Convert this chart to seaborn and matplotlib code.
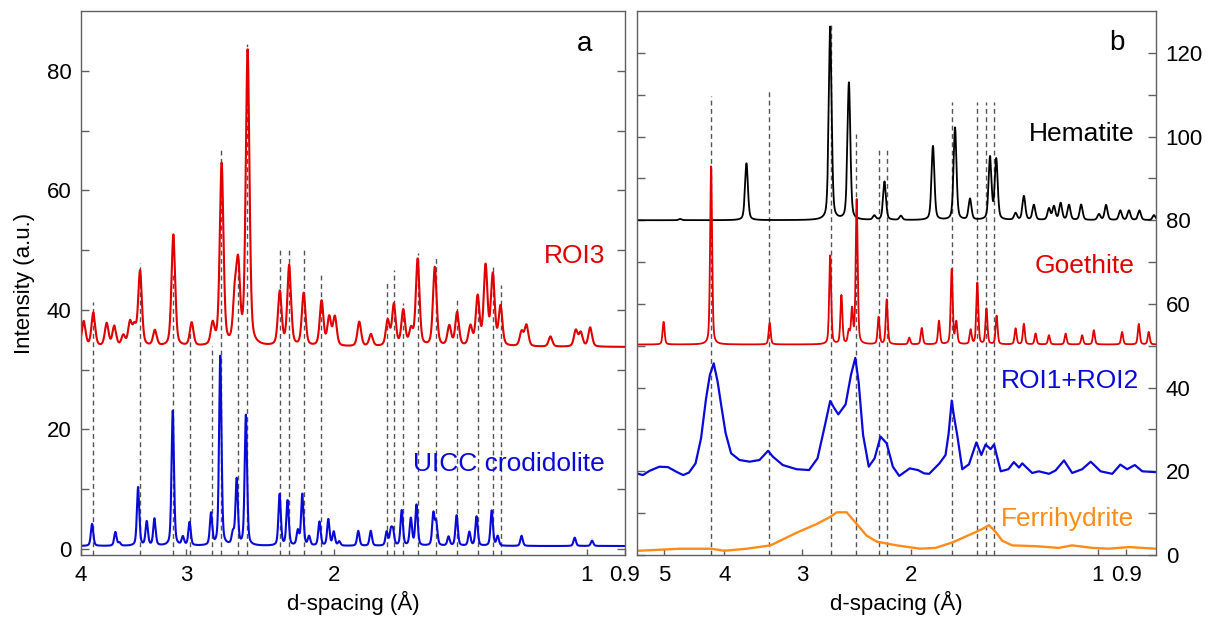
import numpy as np
import pandas as pd
import matplotlib
matplotlib.use("Agg")
import matplotlib.pyplot as plt
from matplotlib.ticker import NullLocator
import seaborn as sns

# ---------------- panel a : ROI3 vs UICC crocidolite ----------------
# peak positions (d, Angstrom) and peak-top intensities
roi3_base = 33.8
roi3_d = [3.97, 3.867, 3.728, 3.651, 3.562, 3.497, 3.455, 3.402, 3.266, 3.105,
          2.953, 2.788, 2.720, 2.623, 2.599, 2.533, 2.319, 2.260, 2.172, 2.068,
          2.025, 1.994, 1.865, 1.806, 1.725, 1.696, 1.653, 1.618, 1.589, 1.516,
          1.457, 1.426, 1.375, 1.348, 1.319, 1.293, 1.266, 1.195, 1.179, 1.104,
          1.030, 1.016, 0.990]
roi3_i = [38.0, 39.4, 37.6, 37.1, 35.5, 37.6, 36.7, 46.3, 36.4, 52.5,
          37.7, 37.3, 64.2, 41.4, 46.0, 83.1, 42.8, 47.2, 42.6, 41.3,
          38.5, 38.6, 37.9, 35.8, 38.0, 40.7, 39.7, 36.4, 48.3, 47.0,
          37.1, 39.4, 37.0, 41.9, 47.0, 45.5, 40.3, 36.2, 37.3, 35.5,
          36.5, 36.1, 37.0]

croc_base = 0.5
croc_d = [3.88, 3.64, 3.60, 3.42, 3.34, 3.27, 3.11, 3.025, 2.97, 2.80,
          2.73, 2.637, 2.61, 2.545, 2.32, 2.27, 2.207, 2.18, 2.14, 2.08,
          2.03, 2.00, 1.97, 1.870, 1.807, 1.730, 1.71, 1.70, 1.660, 1.619,
          1.594, 1.522, 1.51, 1.46, 1.428, 1.379, 1.352, 1.297, 1.276, 1.195,
          1.033, 0.985]
croc_i = [4.2, 2.8, 1.0, 10.3, 4.5, 5.0, 23.1, 1.9, 4.4, 5.8,
          32.2, 2.4, 11.5, 22.3, 9.1, 8.0, 2.9, 9.1, 2.0, 4.5,
          4.9, 2.8, 1.2, 3.0, 3.0, 2.8, 2.9, 2.8, 6.4, 5.0,
          7.3, 5.8, 4.2, 2.0, 5.6, 2.8, 5.4, 6.4, 2.1, 2.2,
          1.9, 1.4]

# reference lines (d, top of dashed line)
a_ref_d = [3.867, 3.403, 3.112, 2.966, 2.795, 2.727, 2.599, 2.536, 2.319, 2.260,
           2.172, 2.072, 1.727, 1.696, 1.653, 1.587, 1.513, 1.426, 1.348, 1.293,
           1.265]
a_ref_top = [41.4, 47.9, 46.0, 36.4, 34.0, 66.8, 49.2, 84.5, 50.0, 50.0,
             50.0, 46.0, 44.9, 46.6, 41.1, 49.5, 48.6, 41.9, 41.9, 47.2,
             44.1]

# ---------------- panel b : reference minerals and ROI1+ROI2 ----------------
hem_base = 80.0
hem_d = [4.71, 3.684, 2.700, 2.519, 2.292, 2.207, 2.077, 1.844, 1.699, 1.607,
         1.492, 1.458, 1.357, 1.316, 1.268, 1.199, 1.177, 1.148, 1.113, 1.064,
         0.996, 0.970, 0.920, 0.891, 0.857, 0.812]
hem_i = [80.3, 93.6, 126.2, 112.8, 81.0, 89.2, 81.0, 97.7, 102.1, 85.0,
         94.9, 94.4, 81.6, 85.7, 83.6, 82.7, 83.2, 84.0, 83.6, 83.7,
         81.4, 83.6, 82.3, 82.3, 82.3, 81.2]

goe_base = 50.3
goe_d = [5.01, 4.20, 3.38, 2.70, 2.59, 2.52, 2.49, 2.447, 2.256, 2.189,
         2.013, 1.922, 1.803, 1.720, 1.691, 1.603, 1.564, 1.512, 1.456, 1.357,
         1.316, 1.260, 1.199, 1.127, 1.060, 1.015, 0.914, 0.859, 0.828]
goe_i = [55.7, 92.9, 55.5, 71.5, 61.9, 53.2, 58.3, 84.8, 56.8, 61.0,
         51.9, 54.2, 55.9, 68.2, 55.5, 53.7, 65.0, 58.8, 57.1, 54.1,
         55.2, 52.9, 52.5, 52.9, 52.5, 53.7, 53.3, 55.2, 53.3]

# broad curves traced point by point
roi12_d = [5.54, 5.41, 5.28, 5.09, 4.93, 4.78, 4.66, 4.56, 4.45, 4.36,
           4.28, 4.22, 4.16, 4.10, 4.05, 3.98, 3.90, 3.78, 3.64, 3.51,
           3.40, 3.34, 3.22, 3.06, 2.92, 2.83, 2.76, 2.70, 2.66, 2.62,
           2.55, 2.50, 2.46, 2.43, 2.39, 2.34, 2.29, 2.24, 2.19, 2.14,
           2.09, 2.01, 1.95, 1.905, 1.87, 1.80, 1.76, 1.74, 1.72, 1.705,
           1.685, 1.654, 1.613, 1.570, 1.541, 1.517, 1.489, 1.470, 1.434, 1.394,
           1.366, 1.340, 1.324, 1.276, 1.245, 1.199, 1.170, 1.134, 1.100, 1.060,
           1.027, 0.990, 0.948, 0.920, 0.897, 0.872, 0.848, 0.807]
roi12_i = [19.5, 19.1, 20.1, 21.1, 21.0, 19.9, 19.1, 19.7, 21.9, 27.9,
           37.4, 43.0, 45.8, 41.4, 36.2, 29.1, 24.3, 22.7, 22.3, 22.7,
           24.9, 23.5, 21.5, 20.5, 20.3, 23.1, 30.3, 36.8, 35.1, 33.6,
           36.0, 43.0, 47.1, 41.4, 28.7, 21.1, 23.1, 28.3, 26.7, 21.1,
           18.9, 20.7, 20.3, 19.5, 19.4, 21.9, 23.9, 29.0, 36.9, 33.0,
           28.6, 20.5, 21.7, 26.9, 23.9, 26.4, 25.3, 26.4, 20.0, 20.5,
           22.2, 20.9, 21.9, 19.6, 20.0, 19.4, 20.2, 22.6, 19.6, 20.5,
           22.3, 20.0, 19.4, 21.6, 20.5, 21.5, 20.0, 19.8]

ferri_d = [5.52, 4.71, 4.20, 4.00, 3.68, 3.37, 3.06, 2.84, 2.70, 2.635,
           2.54, 2.447, 2.358, 2.272, 2.110, 1.934, 1.826, 1.716, 1.594, 1.536,
           1.498, 1.461, 1.426, 1.374, 1.260, 1.156, 1.100, 1.021, 0.960, 0.891,
           0.807]
ferri_i = [1.0, 1.5, 1.5, 1.0, 1.5, 2.3, 5.3, 7.4, 9.1, 10.2,
           10.2, 7.4, 4.6, 3.2, 2.3, 1.5, 1.7, 3.0, 5.1, 6.2,
           7.1, 5.5, 3.4, 2.3, 2.1, 1.7, 2.3, 1.7, 1.5, 1.9,
           1.5]

b_ref_d = [4.20, 3.39, 2.692, 2.456, 2.25, 2.185, 1.720, 1.568, 1.513, 1.470]
b_ref_top = [109.7, 110.9, 126.8, 100.6, 96.9, 96.7, 108.3, 108.3, 108.3, 108.3]


def pattern(grid, base, d_pk, i_pk, fwhm):
    # pseudo-Voigt peaks on a log(d) axis, heights taken from the figure
    y = np.full_like(grid, base)
    lg = np.log10(grid)
    for d0, top in zip(d_pk, i_pk):
        u = (lg - np.log10(d0)) / (fwhm / 2)
        y += (top - base) * (0.4 / (1 + u ** 2) + 0.6 * np.exp(-np.log(2) * u ** 2))
    return y


sns.set_style("ticks")
plt.rcParams["font.family"] = ["Liberation Sans", "DejaVu Sans"]
plt.rcParams["axes.edgecolor"] = "#606060"
plt.rcParams["axes.labelcolor"] = "black"
plt.rcParams["xtick.labelcolor"] = "black"
plt.rcParams["ytick.labelcolor"] = "black"

RED = "#e00000"
BLUE = "#0a0ad8"
ORANGE = "#ff8c1a"
DASH = "#555555"

fig = plt.figure(figsize=(12.19, 6.23), dpi=100)
ax_a = fig.add_axes([81 / 1219, 68 / 623, 544 / 1219, 544 / 623])
ax_b = fig.add_axes([637 / 1219, 68 / 623, 519 / 1219, 544 / 623])

# panel a
grid_a = np.geomspace(4.0, 0.9, 4000)
df_a = pd.DataFrame({
    "d": np.concatenate([grid_a, grid_a]),
    "I": np.concatenate([pattern(grid_a, roi3_base, roi3_d, roi3_i, 0.0052),
                         pattern(grid_a, croc_base, croc_d, croc_i, 0.0034)]),
    "sample": ["ROI3"] * len(grid_a) + ["UICC"] * len(grid_a),
})
ax_a.vlines(a_ref_d, -1, a_ref_top, colors=DASH, linestyles=(0, (3.5, 2.5)), lw=1.0, zorder=1)
sns.lineplot(data=df_a, x="d", y="I", hue="sample", palette={"ROI3": RED, "UICC": BLUE},
             estimator=None, lw=1.5, legend=False, ax=ax_a, zorder=2)

# panel b
grid_b = np.geomspace(5.53, 0.806, 4000)
df_b = pd.DataFrame({
    "d": np.concatenate([grid_b, grid_b]),
    "I": np.concatenate([pattern(grid_b, hem_base, hem_d, hem_i, 0.0055),
                         pattern(grid_b, goe_base, goe_d, goe_i, 0.0038)]),
    "sample": ["Hematite"] * len(grid_b) + ["Goethite"] * len(grid_b),
})
ax_b.vlines(b_ref_d, 0, b_ref_top, colors=DASH, linestyles=(0, (3.5, 2.5)), lw=1.0, zorder=1)
sns.lineplot(data=df_b, x="d", y="I", hue="sample", palette={"Hematite": "black", "Goethite": RED},
             estimator=None, lw=1.3, legend=False, ax=ax_b, zorder=2)
sns.lineplot(x=roi12_d, y=roi12_i, color=BLUE, lw=1.6, estimator=None, ax=ax_b, zorder=2)
sns.lineplot(x=ferri_d, y=ferri_i, color=ORANGE, lw=1.7, estimator=None, ax=ax_b, zorder=2)

for ax in (ax_a, ax_b):
    ax.set_xscale("log")
    ax.xaxis.set_minor_locator(NullLocator())
    ax.tick_params(axis="both", which="major", direction="in", labelsize=16,
                   color="#606060", length=6, width=1.0, pad=7)
    ax.tick_params(axis="x", length=4)
    ax.set_xlabel("d-spacing (Å)", fontsize=16, labelpad=4)
    for s in ax.spines.values():
        s.set_linewidth(1.0)

ax_a.set_xlim(4.0, 0.9)
ax_a.set_xticks([4, 3, 2, 1, 0.9])
ax_a.set_xticklabels(["4", "3", "2", "1", "0.9"])
ax_a.set_ylim(-1, 90)
ax_a.set_yticks(range(0, 90, 10))
ax_a.set_yticklabels([str(v) if v % 20 == 0 else "" for v in range(0, 90, 10)])
ax_a.tick_params(axis="y", left=True, right=True)
ax_a.set_ylabel("Intensity (a.u.)", fontsize=16, labelpad=8)

ax_b.set_xlim(5.53, 0.806)
ax_b.set_xticks([5, 4, 3, 2, 1, 0.9])
ax_b.set_xticklabels(["5", "4", "3", "2", "1", "0.9"])
ax_b.set_ylim(0, 130)
ax_b.set_yticks(range(0, 130, 10))
ax_b.set_yticklabels([str(v) if v % 20 == 0 else "" for v in range(0, 130, 10)])
ax_b.tick_params(axis="y", left=True, right=True, labelleft=False, labelright=True)
ax_b.set_ylabel("")

# annotations
ta = ax_a.get_yaxis_transform()
ax_a.text(0.963, 49.1, "ROI3", color=RED, fontsize=19, ha="right", va="center", transform=ta)
ax_a.text(0.963, 14.2, "UICC crodidolite", color=BLUE, fontsize=19, ha="right", va="center", transform=ta)
ax_a.text(0.926, 84.5, "a", color="black", fontsize=20, ha="center", va="center", transform=ta)

tb = ax_b.get_yaxis_transform()
ax_b.text(0.958, 100.6, "Hematite", color="black", fontsize=19, ha="right", va="center", transform=tb)
ax_b.text(0.958, 69.1, "Goethite", color=RED, fontsize=19, ha="right", va="center", transform=tb)
ax_b.text(0.967, 41.5, "ROI1+ROI2", color=BLUE, fontsize=19, ha="right", va="center", transform=tb)
ax_b.text(0.958, 8.5, "Ferrihydrite", color=ORANGE, fontsize=19, ha="right", va="center", transform=tb)
ax_b.text(0.925, 122.4, "b", color="black", fontsize=20, ha="center", va="center", transform=tb)

fig.savefig("out.png", dpi=100)
